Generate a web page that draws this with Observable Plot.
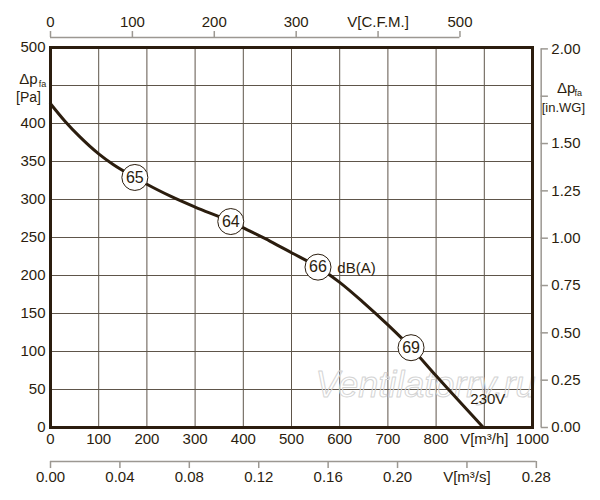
<!doctype html>
<html>
<head>
<meta charset="utf-8">
<style>
  body { margin: 0; background: #fff; }
</style>
</head>
<body>
<div id="chart"></div>
<script src="https://cdn.jsdelivr.net/npm/d3@7"></script>
<script src="https://cdn.jsdelivr.net/npm/@observablehq/plot@0.6"></script>
<script>
  // fan curve: flow in m³/h, static pressure in Pa
  const flow = [0, 30, 60, 100, 130, 175, 200, 250, 300, 374, 415, 456, 500, 555, 600, 650, 700, 748, 800, 898];
  const pressure = [426, 403, 383, 360, 346, 329, 320, 304, 290, 271, 258, 245, 230, 211, 191, 164, 135, 105, 68, 0];

  // noise markers on the curve
  const noiseFlow = [175, 374, 555, 748];
  const noisePressure = [329, 271, 211, 105];
  const noiseLevel = [65, 64, 66, 69];

  // tick values of the five axes
  const m3hTicks = [0, 100, 200, 300, 400, 500, 600, 700, 800, 900, 1000];
  const paTicks = [0, 50, 100, 150, 200, 250, 300, 350, 400, 450, 500];
  const cfmTicks = [0, 100, 200, 300, 400, 500];
  const m3sTicks = [0, 0.04, 0.08, 0.12, 0.16, 0.2, 0.24, 0.28];
  const inwgTicks = [0, 0.25, 0.5, 0.75, 1, 1.25, 1.5, 1.75, 2];

  const CFM = 0.588578;   // cfm per m³/h
  const PA_IN = 249.089;  // Pa per in.WG

  const ink = "#2b1d0e";
  const grid = "#5e554a";
  const axisGrey = "#9c9892";

  const curve = flow.map((q, i) => ({q, p: pressure[i]}));
  const noise = noiseFlow.map((q, i) => ({q, p: noisePressure[i], db: noiseLevel[i]}));

  // positions of the extra axes, in chart units (outside the frame)
  const topLine = 513, topTick = 521, topText = 533;
  const botLine = -44.7, botTick = -54, botText = -66;
  const rightLine = 1018, rightTick = 1033, rightText = 1039;

  const plot = Plot.plot({
    width: 600,
    height: 500,
    marginLeft: 50,
    marginRight: 68,
    marginTop: 47,
    marginBottom: 73,
    x: {domain: [0, 1000], label: null},
    y: {domain: [0, 500], label: null},
    style: {fontFamily: "'Liberation Sans', Arial, sans-serif", fontSize: "15px", color: ink, background: "white"},
    marks: [
      // grid
      Plot.ruleX(m3hTicks.slice(1, -1), {stroke: grid, strokeWidth: 1}),
      Plot.ruleY(paTicks.slice(1, -1), {stroke: grid, strokeWidth: 1}),

      // watermark
      Plot.text(["Ventilatorry.ru"], {x: 778, y: 55, fontSize: 36, fontStyle: "italic",
        fill: "none", stroke: "#d4d4d4", strokeWidth: 1}),

      // bottom m³/h axis
      Plot.axisX(m3hTicks, {anchor: "bottom", label: null, tickSize: 0, tickPadding: 6, fontSize: 15,
        tickFormat: d => d === 900 ? "V[m³/h]" : String(d)}),
      // left Pa axis
      Plot.axisY(paTicks, {anchor: "left", label: null, tickSize: 0, tickPadding: 5, fontSize: 15,
        tickFormat: d => d === 450 ? "" : String(d)}),
      Plot.text(["Δp"], {x: 0, y: 458, dx: -22, fontSize: 15}),
      Plot.text(["fa"], {x: 0, y: 452, dx: -8, fontSize: 9}),
      Plot.text(["[Pa]"], {x: 0, y: 434, dx: -22, fontSize: 14}),

      // top CFM axis
      Plot.ruleY([topLine], {x1: 0, x2: 500 / CFM, stroke: axisGrey, strokeWidth: 1.5}),
      Plot.ruleX(cfmTicks, {x: c => c / CFM, y1: topLine, y2: topTick, stroke: axisGrey, strokeWidth: 1.5}),
      Plot.text(cfmTicks, {x: c => c / CFM, y: topText, text: c => c === 400 ? "V[C.F.M.]" : String(c), fontSize: 15}),

      // bottom m³/s axis
      Plot.ruleY([botLine], {x1: 0, x2: 0.28 * 3600, stroke: axisGrey, strokeWidth: 1.5}),
      Plot.ruleX(m3sTicks, {x: v => v * 3600, y1: botLine, y2: botTick, stroke: axisGrey, strokeWidth: 1.5}),
      Plot.text(m3sTicks, {x: v => v * 3600, y: botText,
        text: v => Math.abs(v - 0.24) < 1e-9 ? "V[m³/s]" : v.toFixed(2), fontSize: 15}),

      // right in.WG axis
      Plot.ruleX([rightLine], {y1: 0, y2: 2 * PA_IN, stroke: axisGrey, strokeWidth: 1.5}),
      Plot.ruleY(inwgTicks, {y: v => v * PA_IN, x1: rightLine, x2: rightTick, stroke: axisGrey, strokeWidth: 1.5}),
      Plot.text(inwgTicks.filter(v => v !== 1.75), {x: rightText, y: v => v * PA_IN,
        text: v => v.toFixed(2), textAnchor: "start", fontSize: 15}),
      Plot.text(["Δp"], {x: 1070, y: 446, fontSize: 15}),
      Plot.text(["fa"], {x: 1095, y: 440, fontSize: 9}),
      Plot.text(["[in.WG]"], {x: 1064, y: 421, fontSize: 13}),

      // frame
      Plot.frame({stroke: ink, strokeWidth: 3}),

      // fan curve
      Plot.line(curve, {x: "q", y: "p", curve: "monotone-x", stroke: ink, strokeWidth: 3}),

      // noise markers
      Plot.dot(noise, {x: "q", y: "p", r: 13, fill: "white", stroke: ink, strokeWidth: 1}),
      Plot.text(noise, {x: "q", y: "p", text: d => String(d.db), fontSize: 16}),
      Plot.text(["dB(A)"], {x: 595, y: 210, textAnchor: "start", fontSize: 15}),
      Plot.text(["230V"], {x: 871, y: 37, textAnchor: "start", fontSize: 15})
    ]
  });

  document.querySelector("#chart").append(plot);
</script>
</body>
</html>
